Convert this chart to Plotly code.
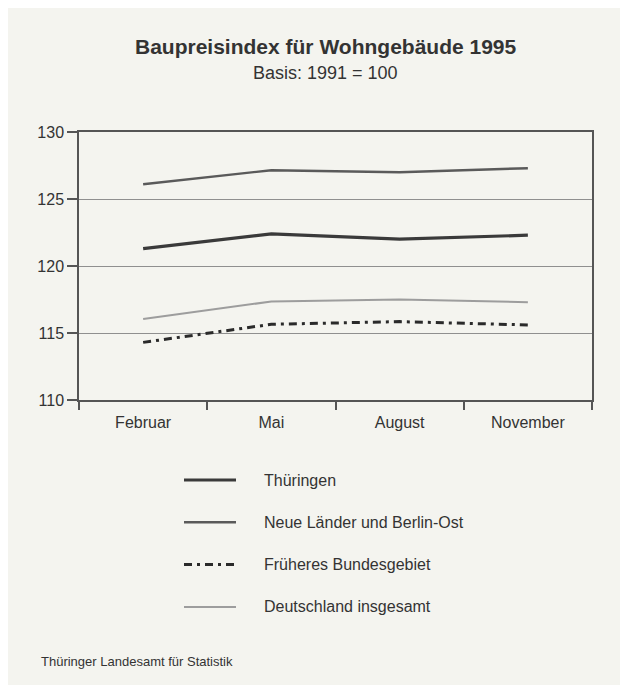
import plotly.graph_objects as go

months = ["Februar", "Mai", "August", "November"]
series_names = ["Thüringen", "Neue Länder und Berlin-Ost", "Früheres Bundesgebiet", "Deutschland insgesamt"]
thueringen = [121.3, 122.4, 122.0, 122.3]
neue_laender = [126.1, 127.15, 127.0, 127.3]
frueheres = [114.3, 115.65, 115.85, 115.6]
deutschland = [116.05, 117.35, 117.5, 117.3]
y_ticks = [110, 115, 120, 125, 130]

series_values = [thueringen, neue_laender, frueheres, deutschland]
styles = [
    dict(color="#3a3a3a", width=3.2),
    dict(color="#5a5a5a", width=2.4),
    dict(color="#2a2a2a", width=3.0, dash="8px,5px,3px,5px"),
    dict(color="#9d9d9d", width=2.0),
]

PAPER = "#f4f4ef"
FONT = "Liberation Sans, Arial, sans-serif"
TXT = "#333333"

# The page body has an 8px margin; page-pixel targets are shifted by it.
OFF = 8
W, H = 628 - 2 * OFF, 693 - 2 * OFF
L, T = 79 - OFF, 132 - OFF
R = 628 - 592 - OFF
B = 693 - 400 - OFF
pw, ph = W - L - R, H - T - B

fig = go.Figure()
for name, vals, st in zip(series_names, series_values, styles):
    fig.add_trace(go.Scatter(x=months, y=vals, mode="lines", name=name,
                             line=st, showlegend=False, hoverinfo="skip"))

fig.update_layout(
    width=W, height=H,
    margin=dict(l=L, r=R, t=T, b=B),
    paper_bgcolor=PAPER, plot_bgcolor=PAPER,
    font=dict(family=FONT, size=16, color=TXT),
    xaxis=dict(
        type="category", range=[-0.5, 3.5], tickson="boundaries",
        ticks="outside", ticklen=8, tickwidth=1.5, tickcolor="#555555",
        showline=True, linecolor="#555555", linewidth=1.5, mirror=True,
        showgrid=False, zeroline=False, tickfont=dict(size=16, color=TXT),
        ticklabelstandoff=7,
    ),
    yaxis=dict(
        range=[110, 130], tickvals=y_ticks, ticktext=[str(v) for v in y_ticks],
        ticks="outside", ticklen=10, tickwidth=1.5, tickcolor="#555555",
        showline=True, linecolor="#555555", linewidth=1.5, mirror=True,
        showgrid=True, gridcolor="#8f8f8f", gridwidth=1, zeroline=False,
        tickfont=dict(size=16, color=TXT),
    ),
)

def px_x(px):
    return (px - OFF - L) / pw

def px_y(py):
    return (H - B - (py - OFF)) / ph

fig.add_annotation(text="<b>Baupreisindex für Wohngebäude 1995</b>", xref="paper", yref="paper",
                   x=px_x(326), y=px_y(46), showarrow=False,
                   font=dict(size=21, color=TXT), xanchor="center", yanchor="middle")
fig.add_annotation(text="Basis: 1991 = 100", xref="paper", yref="paper",
                   x=px_x(325), y=px_y(73), showarrow=False,
                   font=dict(size=18, color=TXT), xanchor="center", yanchor="middle")

leg_top, leg_gap = 480, 42.3
for i, (name, st) in enumerate(zip(series_names, styles)):
    yy = px_y(leg_top + i * leg_gap)
    fig.add_shape(type="line", xref="paper", yref="paper",
                  x0=px_x(184), x1=px_x(236), y0=yy, y1=yy, line=st)
    fig.add_annotation(text=name, xref="paper", yref="paper",
                       x=px_x(262), y=yy, showarrow=False,
                       xanchor="left", yanchor="middle",
                       font=dict(size=16, color=TXT))

fig.add_annotation(text="Thüringer Landesamt für Statistik", xref="paper", yref="paper",
                   x=px_x(39), y=px_y(661), showarrow=False,
                   xanchor="left", yanchor="middle", font=dict(size=13, color=TXT))

fig.write_html("out.html")
